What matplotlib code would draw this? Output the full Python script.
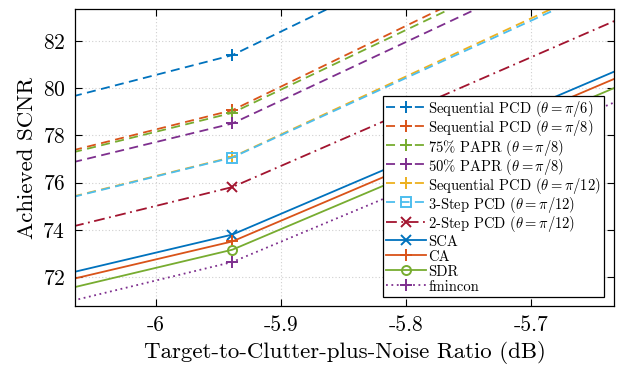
import matplotlib
matplotlib.use("Agg")
import matplotlib.pyplot as plt

plt.rcParams["font.family"] = "serif"
plt.rcParams["font.serif"] = ["cmr10"]
plt.rcParams["mathtext.fontset"] = "cm"
plt.rcParams["axes.unicode_minus"] = False
plt.rcParams["axes.formatter.use_mathtext"] = True

# TCNR sample points (dB); the outer points sit just outside the zoomed view
tcnr = [-6.1, -5.939, -5.6]

seq_pcd_pi6 = [79.19, 81.39, 90.08]
seq_pcd_pi8 = [76.92, 79.06, 87.77]
papr75_pi8 = [76.84, 78.95, 87.50]
papr50_pi8 = [76.43, 78.50, 86.91]
seq_pcd_pi12 = [74.97, 77.08, 85.40]
step3_pcd_pi12 = [74.95, 77.06, 85.27]
step2_pcd_pi12 = [73.71, 75.81, 83.60]
sca = [71.79, 73.80, 81.45]
ca = [71.51, 73.51, 81.14]
sdr = [71.14, 73.16, 80.75]
fmincon = [70.58, 72.64, 80.13]

labels = [
    r"Sequential PCD ($\theta = \pi/6$)",
    r"Sequential PCD ($\theta = \pi/8$)",
    r"75% PAPR ($\theta = \pi/8$)",
    r"50% PAPR ($\theta = \pi/8$)",
    r"Sequential PCD ($\theta = \pi/12$)",
    r"3-Step PCD ($\theta = \pi/12$)",
    r"2-Step PCD ($\theta = \pi/12$)",
    "SCA",
    "CA",
    "SDR",
    "fmincon",
]

BLUE, ORANGE, YELLOW = "#0072BD", "#D95319", "#EDB120"
PURPLE, GREEN, CYAN, DRED = "#7E2F8E", "#77AC30", "#4DBEEE", "#A2142F"

dash = (0, (5, 3))
dashdot = (0, (6, 2.5, 1, 2.5))
dotted = (0, (1, 2))

styles = [
    (seq_pcd_pi6, BLUE, dash, "+"),
    (seq_pcd_pi8, ORANGE, dash, "+"),
    (papr75_pi8, GREEN, dash, "+"),
    (papr50_pi8, PURPLE, dash, "+"),
    (seq_pcd_pi12, YELLOW, dash, "+"),
    (step3_pcd_pi12, CYAN, dash, "s"),
    (step2_pcd_pi12, DRED, dashdot, "x"),
    (sca, BLUE, "-", "x"),
    (ca, ORANGE, "-", "+"),
    (sdr, GREEN, "-", "o"),
    (fmincon, PURPLE, dotted, "+"),
]

fig = plt.figure(figsize=(6.19, 3.68), dpi=100)
ax = fig.add_axes([0.1212, 0.1685, 0.8708, 0.8062])

for (vals, col, ls, mk), lab in zip(styles, labels):
    ms = {"+": 8, "x": 6.5}.get(mk, 6.5)
    ax.plot(tcnr, vals, color=col, linestyle=ls, linewidth=1.3,
            marker=mk, markersize=ms, markeredgewidth=1.4,
            markerfacecolor="none", label=lab)

ax.set_xlim(-6.0648, -5.6336)
ax.set_ylim(70.78, 83.33)
ax.set_xticks([-6, -5.9, -5.8, -5.7])
ax.set_xticklabels(["-6", "-5.9", "-5.8", "-5.7"])
ax.set_yticks([72, 74, 76, 78, 80, 82])

ax.grid(True, color="#d0d0d0", linestyle=(0, (1, 2)), linewidth=0.8)
ax.tick_params(direction="in", top=True, right=True, length=5,
               width=0.8, labelsize=15.5, pad=7)
for sp in ax.spines.values():
    sp.set_linewidth(0.9)

ax.set_xlabel("Target-to-Clutter-plus-Noise Ratio (dB)", fontsize=16.5)
ax.set_ylabel("Achieved SCNR", fontsize=16.5)

leg = ax.legend(loc="lower right", bbox_to_anchor=(0.9814, 0.0303),
                borderaxespad=0, fontsize=10.5, numpoints=1,
                handlelength=2.7, handleheight=1.3, handletextpad=0.2,
                labelspacing=-0.06, borderpad=0.2, fancybox=False,
                framealpha=1, edgecolor="black")
leg.get_frame().set_linewidth(0.9)

fig.savefig("out.png", dpi=100)
